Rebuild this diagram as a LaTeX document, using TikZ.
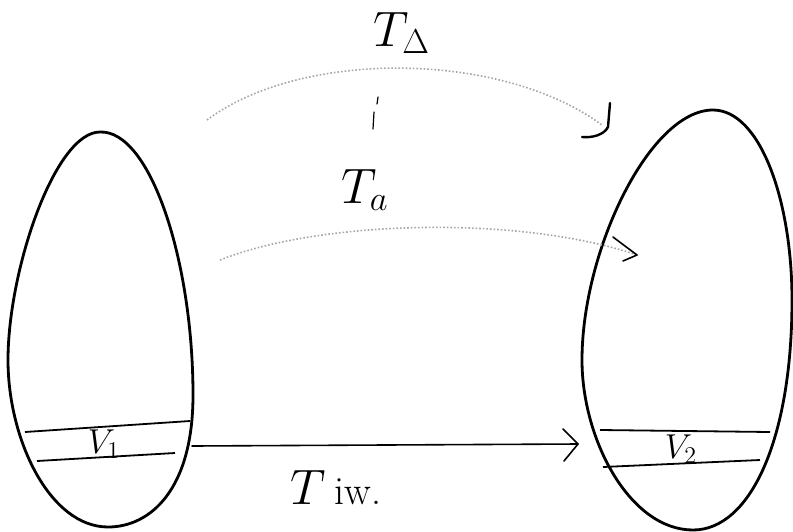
\documentclass[tikz,border=0pt]{standalone}
\begin{document}
\begin{tikzpicture}[x=0.5pt, y=-0.5pt, egg/.style={black, line width=1.4pt}, slice/.style={black, line width=0.9pt}, guess/.style={gray!70, densely dotted, line width=0.8pt}, tip/.style={black, line width=0.8pt, line cap=round, line join=round}, every node/.style={font=\fontsize{26}{28}\selectfont}]
    \useasboundingbox (0,0) rectangle (793,531);

    \draw[egg] (100,132) .. controls (150,130) and (193,260) .. (193,395) .. controls (193,490) and (150,527) .. (108,527) .. controls (50,527) and (8,440) .. (8,360) .. controls (8,270) and (55,132) .. cycle;
    \draw[egg] (713,110) .. controls (760,110) and (792,200) .. (792,300) .. controls (792,440) and (750,530) .. (693,530) .. controls (630,530) and (582,440) .. (582,360) .. controls (582,250) and (650,110) .. cycle;

    \draw[slice] (25,432) -- (190,421);
    \draw[slice] (37,461) -- (175,453);
    \draw[slice] (600,430) -- (770,432);
    \draw[slice] (603,467) -- (760,460);
    \node[font=\fontsize{17}{19}\selectfont] (v1) at (104,444) {$V_1$};
    \node[font=\fontsize{17}{19}\selectfont] (v2) at (681,449) {$V_2$};

    \coordinate (a1) at (207,120);
    \coordinate (b1) at (602,125);
    \coordinate (a2) at (220,260);
    \coordinate (b2) at (637,255);
    \coordinate (a3) at (192,446);
    \coordinate (b3) at (578,444);

    \draw[guess] (a1) .. controls (300,50) and (500,50) .. (b1);
    \draw[tip, line width=1.2pt] (610,103) -- (608,127) .. controls (604,135) and (592,138) .. (582,137);
    \draw[guess] (a2) .. controls (320,220) and (520,215) .. (b2);
    \draw[tip] (613,237) -- (b2) -- (623,261);
    \draw[tip] (a3) -- (b3);
    \draw[tip] (563,429) -- (b3) -- (564,461);

    \draw[tip, line width=0.6pt] (378,97) -- (377,104);
    \draw[tip, line width=0.6pt] (374,112) -- (373,129);

    \node (ttop) at (402,33) {$T_{\Delta}$};
    \node (tmid) at (365,190) {$T_{a}$};
    \node (tbot) at (336,488) {$T$\,{\fontsize{20}{22}\selectfont iw.}};
\end{tikzpicture}
\end{document}
